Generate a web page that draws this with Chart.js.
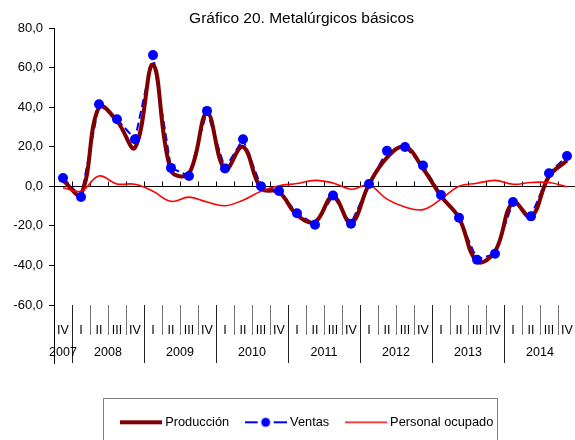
<!DOCTYPE html>
<html>
<head>
<meta charset="utf-8">
<script src="https://cdn.jsdelivr.net/npm/chart.js@4.4.1/dist/chart.umd.min.js"></script>
<style>
  html, body { margin: 0; padding: 0; background: #fff; overflow: hidden; }
  #wrap { width: 603px; height: 440px; }
</style>
</head>
<body>
<div id="wrap"><canvas id="metalChart" width="603" height="440"></canvas></div>
<script>
// quarters from 2007 IV to 2014 IV
const quarters = ['IV',
  'I', 'II', 'III', 'IV',
  'I', 'II', 'III', 'IV',
  'I', 'II', 'III', 'IV',
  'I', 'II', 'III', 'IV',
  'I', 'II', 'III', 'IV',
  'I', 'II', 'III', 'IV',
  'I', 'II', 'III', 'IV'];
const years = ['2007', '2008', '2009', '2010', '2011', '2012', '2013', '2014'];

const produccion = [3.0, -4.0, 40.0, 33.0, 19.5, 61.5, 8.0, 6.5, 37.0, 8.5, 20.0, -1.0, -3.0,
  -14.5, -18.0, -5.0, -18.5, 1.0, 14.5, 20.0, 9.0, -5.0, -16.0, -38.0, -33.0, -8.0, -15.5, 5.0, 13.0];
const ventas = [4.2, -5.4, 41.5, 33.9, 23.8, 66.3, 9.3, 5.2, 38.1, 9.0, 23.8, 0.0, -2.4,
  -13.6, -19.4, -4.7, -18.9, 1.2, 17.9, 19.9, 10.5, -4.4, -15.9, -37.1, -34.1, -7.9, -15.2, 6.6, 15.3];
const personalOcupado = [-0.7, -2.5, 5.2, 1.2, 1.0, -2.5, -7.6, -5.5, -7.9, -9.8, -7.0, -2.5, 0.3,
  1.4, 3.0, 1.7, -1.5, 0.5, -6.5, -10.5, -11.8, -6.5, 0.0, 1.5, 3.0, 1.0, 1.9, 1.9, -0.2];

// the original uses a narrow face; use Liberation Sans Narrow when it is there
function hasFont(name) {
  const g = document.createElement('canvas').getContext('2d');
  g.font = '40px monospace';
  const w0 = g.measureText('Personal ocupado 2008').width;
  g.font = "40px '" + name + "', monospace";
  return g.measureText('Personal ocupado 2008').width !== w0;
}
const NARROW = hasFont('Liberation Sans Narrow');
const FONT = NARROW ? "'Liberation Sans Narrow', 'Liberation Sans', sans-serif" : "'Liberation Sans', Arial, sans-serif";
const fs = s => NARROW ? Math.round(s / 0.82 * 10) / 10 : s;

const titleSize = fs(15.5);
const yTickSize = fs(13);
const xTickSize = fs(12.5);
const legendSize = fs(12.8);
const legendPad = 18.5;
const bottomPad = Math.max(0, 7.7 - legendSize / 2);
const xAxisHeight = 440 - bottomPad - (legendSize + legendPad + 10) - 305;

Chart.defaults.font.family = FONT;
Chart.defaults.color = '#000';

// little pictures for the legend samples
function sample(draw) {
  const c = document.createElement('canvas');
  c.width = 42; c.height = 12;
  draw(c.getContext('2d'));
  return c;
}
const prodSample = sample(g => {
  g.strokeStyle = '#800000'; g.lineWidth = 4;
  g.beginPath(); g.moveTo(0, 6); g.lineTo(42, 6); g.stroke();
});
const ventasSample = sample(g => {
  g.strokeStyle = '#0000FF'; g.lineWidth = 2;
  g.beginPath(); g.moveTo(0, 6); g.lineTo(13, 6); g.moveTo(29, 6); g.lineTo(42, 6); g.stroke();
  g.fillStyle = '#0000FF';
  g.beginPath(); g.arc(21, 6, 4.5, 0, Math.PI * 2); g.fill();
});
const personalSample = sample(g => {
  g.strokeStyle = '#FF0000'; g.lineWidth = 1.6;
  g.beginPath(); g.moveTo(0, 6); g.lineTo(42, 6); g.stroke();
});

// zero line, quarter/year separators, year labels and legend frame
const yearAxis = {
  id: 'yearAxis',
  afterLayout(chart) {
    // legend group sits a bit right of the title in the original
    chart.legend.left += 6.5;
    chart.legend.right += 6.5;
  },
  beforeDatasetsDraw(chart) {
    const {ctx, chartArea, scales: {x, y}} = chart;
    const half = (x.getPixelForValue(1) - x.getPixelForValue(0)) / 2;
    const y0 = Math.round(y.getPixelForValue(0)) + 0.5;
    ctx.save();
    ctx.strokeStyle = '#000';
    ctx.lineWidth = 1;
    ctx.beginPath();
    ctx.moveTo(chartArea.left, y0);
    ctx.lineTo(chartArea.right, y0);
    for (let i = 1; i < quarters.length; i++) {
      const px = Math.round(x.getPixelForValue(i) - half) + 0.5;
      ctx.moveTo(px, y0);
      ctx.lineTo(px, y0 - 5);
    }
    ctx.stroke();
    ctx.restore();
  },
  afterDraw(chart) {
    const {ctx, chartArea, scales: {x}} = chart;
    const half = (x.getPixelForValue(1) - x.getPixelForValue(0)) / 2;
    const top = chartArea.bottom;
    ctx.save();
    ctx.lineWidth = 1;
    // y axis runs on down through the label rows
    ctx.strokeStyle = '#000';
    ctx.beginPath();
    ctx.moveTo(Math.round(chartArea.left) + 0.5, top);
    ctx.lineTo(Math.round(chartArea.left) + 0.5, top + 59);
    ctx.stroke();
    const starts = [];
    quarters.forEach((q, i) => { if (i === 0 || q === 'I') starts.push(i); });
    for (let i = 1; i < quarters.length; i++) {
      const px = Math.round(x.getPixelForValue(i) - half) + 0.5;
      const isYear = quarters[i] === 'I';
      ctx.strokeStyle = isYear ? '#222' : '#777';
      ctx.beginPath();
      ctx.moveTo(px, top);
      ctx.lineTo(px, top + (isYear ? 58 : 30));
      ctx.stroke();
    }
    ctx.fillStyle = '#000';
    ctx.font = xTickSize + 'px ' + FONT;
    ctx.textAlign = 'center';
    ctx.textBaseline = 'middle';
    years.forEach((yr, j) => {
      const a = starts[j];
      const b = (j + 1 < starts.length ? starts[j + 1] : quarters.length) - 1;
      const cx = (x.getPixelForValue(a) + x.getPixelForValue(b)) / 2;
      ctx.fillText(yr, cx, top + 48);
    });
    // legend frame
    const boxes = chart.legend.legendHitBoxes;
    if (boxes && boxes.length) {
      const first = boxes[0], last = boxes[boxes.length - 1];
      const cy = first.top + first.height / 2;
      const l = Math.round(first.left - 3 - 16.7) + 0.5;
      const r = Math.round(last.left + last.width + 4) + 0.5;
      const t = Math.round(cy - 24.6) + 0.5;
      ctx.strokeStyle = '#808080';
      ctx.strokeRect(l, t, r - l, 60);
    }
    ctx.restore();
  }
};

const ctx = document.getElementById('metalChart').getContext('2d');
const metalChart = new Chart(ctx, {
  type: 'line',
  data: {
    labels: quarters,
    datasets: [
      // drawn last: Ventas dots on top
      {
        label: 'Ventas',
        data: ventas,
        showLine: false,
        pointRadius: 5,
        pointBackgroundColor: '#0000FF',
        pointBorderColor: '#0000FF',
        pointBorderWidth: 0
      },
      {
        label: 'Personal ocupado',
        data: personalOcupado,
        borderColor: '#FF0000',
        borderWidth: 1.6,
        tension: 0.4,
        pointRadius: 0,
        fill: false
      },
      {
        label: 'Producción',
        data: produccion,
        borderColor: '#800000',
        borderWidth: 4,
        tension: 0.4,
        pointRadius: 0,
        fill: false
      },
      // drawn first: dashed Ventas line underneath
      {
        label: 'Ventas',
        data: ventas,
        borderColor: '#0000FF',
        borderWidth: 2,
        borderDash: [8, 4],
        tension: 0,
        pointRadius: 0,
        fill: false
      }
    ]
  },
  options: {
    responsive: false,
    animation: false,
    layout: { padding: { left: 0, right: 0, top: 0, bottom: bottomPad } },
    scales: {
      x: {
        type: 'category',
        offset: true,
        grid: { display: false },
        border: { display: false },
        ticks: {
          autoSkip: false,
          maxRotation: 0,
          padding: 18 - 0.6 * xTickSize,
          font: { size: xTickSize },
          color: '#000'
        },
        afterFit(scale) { scale.height = xAxisHeight; }
      },
      y: {
        min: -60,
        max: 80,
        ticks: {
          stepSize: 20,
          padding: 6,
          font: { size: yTickSize },
          color: '#000',
          callback: v => v.toFixed(1).replace('.', ',')
        },
        grid: { drawOnChartArea: false, drawTicks: true, tickLength: 5, color: '#000' },
        border: { display: true, color: '#000', width: 1 },
        afterFit(scale) { scale.width = 54; }
      },
      // empty right margin so the title and legend centre like the original
      spacer: {
        type: 'linear',
        position: 'right',
        display: true,
        ticks: { display: false },
        grid: { display: false },
        border: { display: false },
        afterFit(scale) { scale.width = 27; }
      }
    },
    plugins: {
      title: {
        display: true,
        text: 'Gráfico 20. Metalúrgicos básicos',
        color: '#000',
        font: { size: titleSize, weight: 'normal', lineHeight: 1 },
        padding: { top: 19 - titleSize / 2, bottom: Math.max(0, 9 - titleSize / 2) }
      },
      legend: {
        position: 'bottom',
        onClick: null,
        labels: {
          usePointStyle: true,
          pointStyleWidth: 36,
          padding: legendPad,
          color: '#000',
          font: { size: legendSize },
          generateLabels: () => [
            { text: 'Producción', pointStyle: prodSample, datasetIndex: 2, fillStyle: 'transparent', strokeStyle: 'transparent', lineWidth: 0, hidden: false },
            { text: 'Ventas', pointStyle: ventasSample, datasetIndex: 3, fillStyle: 'transparent', strokeStyle: 'transparent', lineWidth: 0, hidden: false },
            { text: 'Personal ocupado', pointStyle: personalSample, datasetIndex: 1, fillStyle: 'transparent', strokeStyle: 'transparent', lineWidth: 0, hidden: false }
          ]
        }
      },
      tooltip: { enabled: false }
    }
  },
  plugins: [yearAxis]
});
</script>
</body>
</html>
